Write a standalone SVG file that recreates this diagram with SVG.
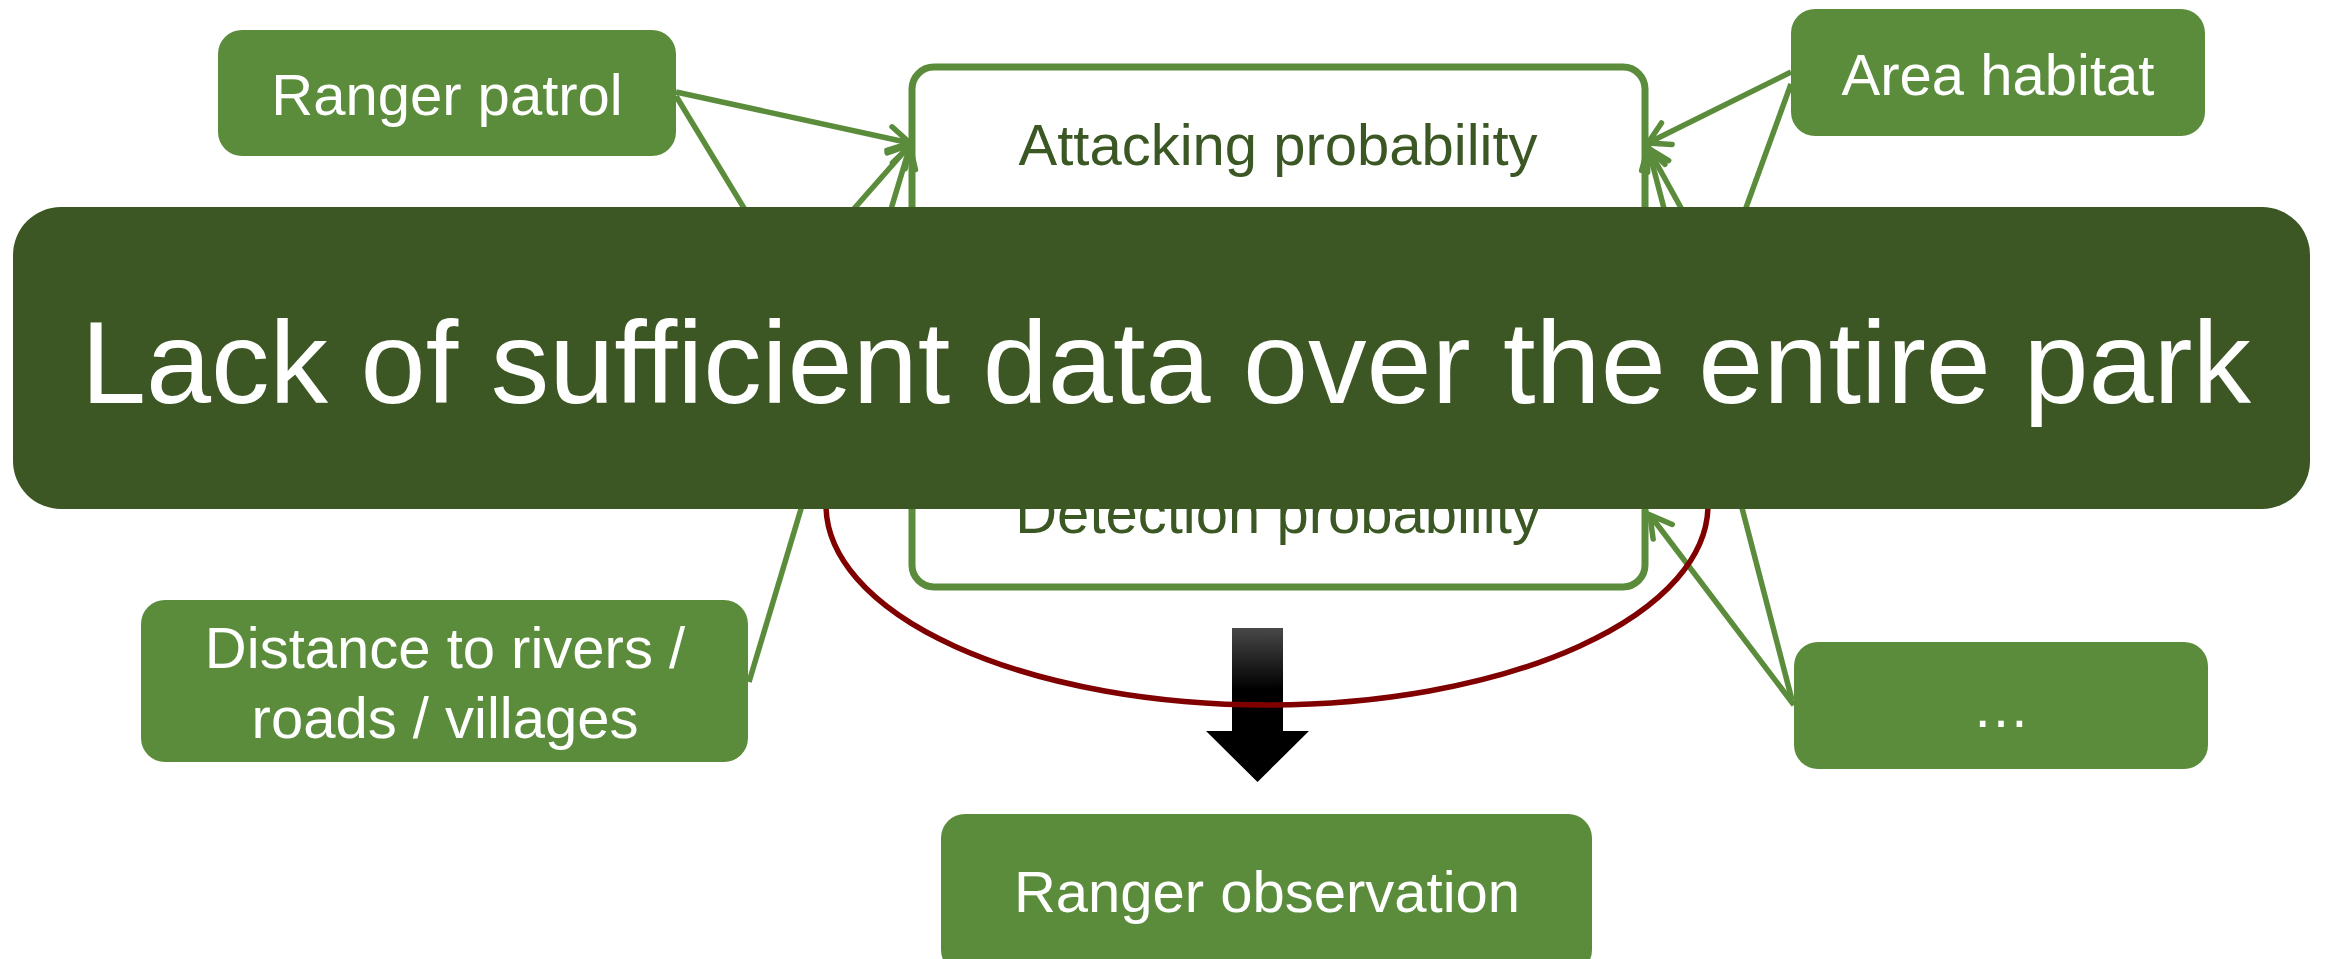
<svg xmlns="http://www.w3.org/2000/svg" width="2325" height="959" viewBox="0 0 2325 959">
  <style>
    .factor { fill: #5B8C3C; }
    .outline { fill: #FFFFFF; stroke: #5B8C3C; stroke-width: 7; }
    .wt { fill: #FFFFFF; font-family: "Liberation Sans", Arial, sans-serif; font-size: 58px; text-anchor: middle; }
    .dk { fill: #3B5724; font-family: "Liberation Sans", Arial, sans-serif; font-size: 58px; text-anchor: middle; }
    .conn { fill: none; stroke: #5B8C3C; stroke-width: 5.5; marker-end: url(#open); }
  </style>
  <defs>
    <marker id="open" viewBox="0 0 24 26" refX="22" refY="13" markerWidth="24" markerHeight="26" markerUnits="userSpaceOnUse" orient="auto" overflow="visible">
      <path d="M1,1 L22,13 L1,25" fill="none" stroke="#5B8C3C" stroke-width="5.5" stroke-linecap="round" stroke-linejoin="miter"/>
    </marker>
    <linearGradient id="arrowGrad" x1="0" y1="0" x2="0" y2="1">
      <stop offset="0" stop-color="#484848"/>
      <stop offset="0.4" stop-color="#000000"/>
      <stop offset="1" stop-color="#000000"/>
    </linearGradient>
  </defs>

  <rect width="2325" height="959" fill="#FFFFFF"/>

  <g id="attacking">
    <rect class="outline" x="912" y="67" width="733" height="180" rx="22"/>
    <text class="dk" x="1278" y="165">Attacking probability</text>
  </g>

  <g id="detection">
    <rect class="outline" x="912" y="420" width="733" height="167" rx="22"/>
    <text class="dk" x="1278" y="533">Detection probability</text>
  </g>

  <g id="connectors">
    <line class="conn" x1="676" y1="92" x2="910" y2="143"/>
    <line class="conn" x1="676" y1="96" x2="912" y2="485"/>
    <line class="conn" x1="749" y1="682" x2="910" y2="146"/>
    <line class="conn" x1="686" y1="400" x2="910" y2="145"/>
    <line class="conn" x1="1791" y1="72" x2="1648" y2="143"/>
    <line class="conn" x1="1791" y1="84" x2="1648" y2="477"/>
    <line class="conn" x1="1792" y1="700" x2="1648" y2="147"/>
    <line class="conn" x1="1794" y1="705" x2="1650" y2="515"/>
    <line class="conn" x1="1787" y1="400" x2="1648" y2="148"/>
  </g>

  <g id="ranger-patrol">
    <rect class="factor" x="218" y="30" width="458" height="126" rx="24"/>
    <text class="wt" x="447" y="115">Ranger patrol</text>
  </g>

  <g id="area-habitat">
    <rect class="factor" x="1791" y="9" width="414" height="127" rx="24"/>
    <text class="wt" x="1998" y="95">Area habitat</text>
  </g>

  <g id="distance">
    <rect class="factor" x="141" y="600" width="607" height="162" rx="24"/>
    <text class="wt" x="445" y="668">Distance to rivers /</text>
    <text class="wt" x="445" y="738">roads / villages</text>
  </g>

  <g id="other">
    <rect class="factor" x="1794" y="642" width="414" height="127" rx="24"/>
    <text class="wt" x="2001" y="727">…</text>
  </g>

  <g id="flow-arrow">
    <polygon points="1232,628 1283,628 1283,731 1309,731 1257.5,782 1206,731 1232,731" fill="url(#arrowGrad)"/>
  </g>

  <g id="scope-ellipse">
    <ellipse cx="1267" cy="505" rx="441" ry="200" fill="none" stroke="#800000" stroke-width="5.5"/>
  </g>

  <g id="ranger-observation">
    <rect class="factor" x="941" y="814" width="651" height="160" rx="24"/>
    <text class="wt" x="1267" y="912">Ranger observation</text>
  </g>

  <g id="banner">
    <rect x="13" y="207" width="2297" height="302" rx="48" fill="#3C5724"/>
    <text x="1166" y="403" fill="#FFFFFF" font-family="Liberation Sans, Arial, sans-serif" font-size="117" text-anchor="middle">Lack of sufficient data over the entire park</text>
  </g>
</svg>
